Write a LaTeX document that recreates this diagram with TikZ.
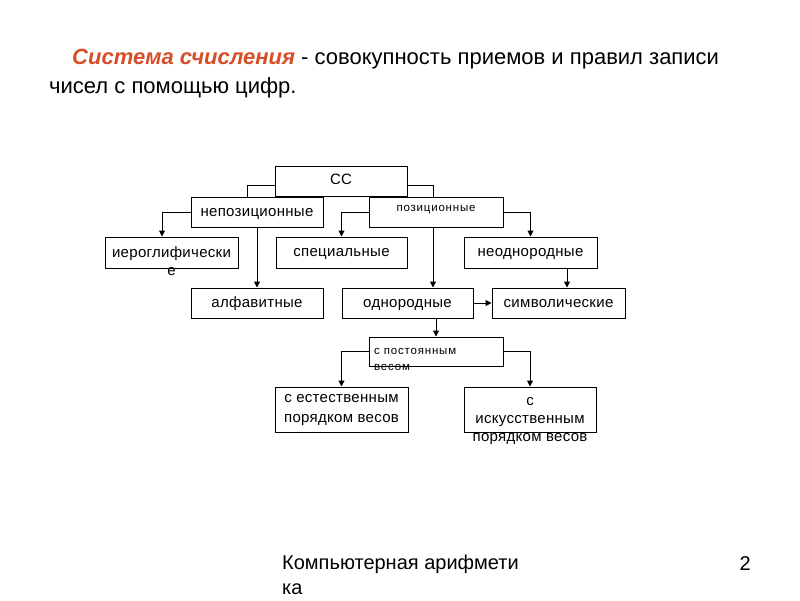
\documentclass[tikz,border=0pt]{standalone}
\usepackage{fontspec}
\setmainfont{Liberation Sans}
\newfontfamily\boxfont[LetterSpace=2]{Liberation Sans}
\newfontfamily\smallboxfont[LetterSpace=7]{Liberation Sans}
\usetikzlibrary{arrows.meta}
\definecolor{titlered}{RGB}{214,78,40}
\tikzset{
  box/.style={draw, line width=1pt, inner sep=0pt, text height=8.5pt, text depth=0pt, font=\boxfont\fontsize{15}{18}\selectfont},
  lbl/.style={inner sep=0pt, font=\boxfont\fontsize{15}{18}\selectfont, align=center},
  conn/.style={line width=1pt},
  arr/.style={line width=1pt, -{Triangle[length=6pt,width=6pt]}},
}
\begin{document}
\begin{tikzpicture}[x=1pt,y=-1pt]
\useasboundingbox (0,0) rectangle (800,600);
% title
\node[anchor=base west, inner sep=0pt, font=\fontsize{22}{29}\selectfont] (t1) at (72,64)
  {\textcolor{titlered}{\textbf{\textit{Система счисления}}} - совокупность приемов и правил записи};
\node[anchor=base west, inner sep=0pt, font=\fontsize{22}{29}\selectfont] (t2) at (49,93)
  {чисел с помощью цифр.};
% boxes
\node[box, minimum width=132pt, minimum height=30pt] (cc) at (341,181) {};
\node[lbl] (cct) at (341,179) {СС};
\node[box, minimum width=132pt, minimum height=30pt] (nep) at (257,212) {непозиционные};
\node[box, minimum width=134pt, minimum height=30pt] (poz) at (436,212) {};
\node[lbl, font=\smallboxfont\fontsize{11.5}{13}\selectfont] (pozt) at (436,210) {позиционные};
\node[box, minimum width=133pt, minimum height=31pt] (ier) at (171.5,252.5) {};
\node[lbl, font=\boxfont\fontsize{15}{18}\selectfont] (iert) at (171.5,261) {иероглифически\\е};
\node[box, minimum width=131pt, minimum height=31pt] (spec) at (341.5,252.5) {специальные};
\node[box, minimum width=133pt, minimum height=31pt] (neod) at (530.5,252.5) {неоднородные};
\node[box, minimum width=132pt, minimum height=30pt] (alf) at (257,303) {алфавитные};
\node[box, minimum width=131pt, minimum height=30pt] (odn) at (407.5,303) {однородные};
\node[box, minimum width=133pt, minimum height=30pt] (sym) at (558.5,303) {символические};
\node[box, minimum width=134pt, minimum height=29pt] (post) at (436,351.5) {};
\node[lbl, anchor=west, align=left, font=\smallboxfont\fontsize{11.5}{16}\selectfont] (postt) at (374,359) {с постоянным\\весом};
\node[box, minimum width=133pt, minimum height=45pt] (est) at (341.5,409.5) {};
\node[lbl, font=\boxfont\fontsize{15}{20}\selectfont] (estt) at (341.5,410) {с естественным\\порядком весов};
\node[box, minimum width=132pt, minimum height=45pt] (isk) at (530,409.5) {};
\node[lbl, font=\boxfont\fontsize{15}{18}\selectfont] (iskt) at (530,421) {с\\искусственным\\порядком весов};
% connectors
\draw[conn] ([yshift=-4pt]cc.west) -| ([xshift=-10pt]nep.north);
\draw[conn] ([yshift=-4pt]cc.east) -| ([xshift=-3pt]poz.north);
\draw[arr] (nep.west) -| ([xshift=-9.5pt]ier.north);
\draw[arr] (nep.south) -- (alf.north);
\draw[arr] (poz.west) -| (spec.north);
\draw[arr] (poz.east) -| (neod.north);
\draw[arr] ([xshift=-3pt]poz.south) -- ([xshift=-3pt]poz.south |- odn.north);
\coordinate (symin) at ([xshift=8.5pt]sym.north);
\draw[arr] (symin |- neod.south) -- (symin);
\draw[arr] (odn.east) -- (sym.west);
\draw[arr] (post.north |- odn.south) -- (post.north);
\draw[arr] (post.west) -| (est.north);
\draw[arr] (post.east) -| (isk.north);
% footer
\node[anchor=north west, inner sep=0pt, align=left, font=\fontsize{20}{25}\selectfont] (foot) at (282,555)
  {Компьютерная арифмети\\ка};
\node[anchor=base east, inner sep=0pt, font=\fontsize{20}{24}\selectfont] (pg) at (751,570) {2};
\end{tikzpicture}
\end{document}
